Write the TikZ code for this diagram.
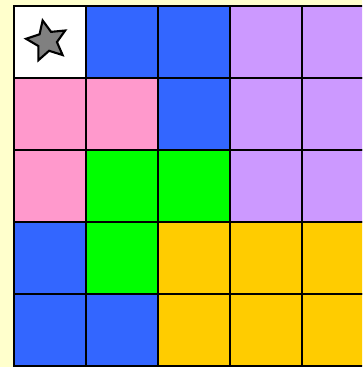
\documentclass[tikz,border=0pt]{standalone}
\usetikzlibrary{shapes.geometric}
\definecolor{bgyellow}{HTML}{FFFFCC}
\definecolor{cblue}{HTML}{3366FF}
\definecolor{cpink}{HTML}{FF99CC}
\definecolor{cpurple}{HTML}{CC99FF}
\definecolor{cgreen}{HTML}{00FF00}
\definecolor{cgold}{HTML}{FFCC00}
\tikzset{
  cell/.style={draw=black, line width=1.5pt, minimum size=1.8cm, inner sep=0pt, anchor=north west},
}
\begin{document}
\begin{tikzpicture}

  % --- canvas ---
  \useasboundingbox (0,0) rectangle (9.05,9.175);
  \clip (0,0) rectangle (9.05,9.175);
  \fill[bgyellow] (0,0) rectangle (9.05,9.175);

  % --- griglia 5x5 ---
  \foreach \row/\colours in {1/{white,cblue,cblue,cpurple,cpurple},
                             2/{cpink,cpink,cblue,cpurple,cpurple},
                             3/{cpink,cgreen,cgreen,cpurple,cpurple},
                             4/{cblue,cgreen,cgold,cgold,cgold},
                             5/{cblue,cblue,cgold,cgold,cgold}} {
    \foreach \c [count=\col] in \colours {
      \node[cell, fill=\c] (cell-\row-\col)
        at ({0.325+1.8*(\col-1)}, {9.05-1.8*(\row-1)}) {};
    }
  }

  % --- stella ---
  \node[star, star points=5, star point ratio=2.1, minimum size=1.05cm,
        inner sep=0pt, draw=black, line width=1.5pt, fill=gray, rotate=12]
    (star) at (1.175,8.15) {};

  \end{tikzpicture}
\end{document}
